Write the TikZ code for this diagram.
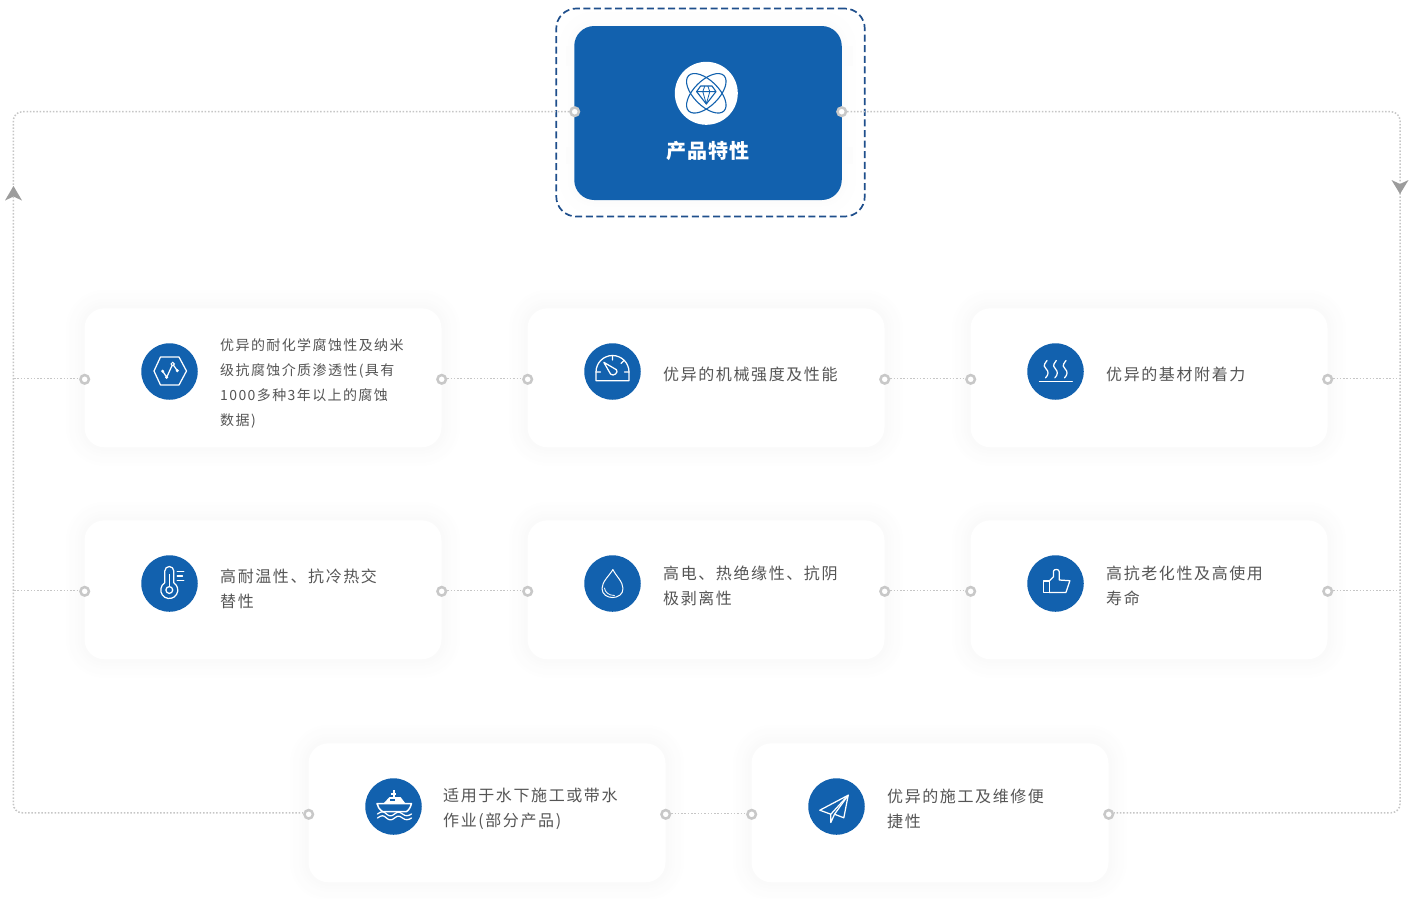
\documentclass[tikz,border=0pt]{standalone}
\usepackage{fontspec}
\setmainfont[LetterSpace=10]{Noto Sans CJK SC}
\newfontfamily\cjkbody[LetterSpace=10]{Noto Sans CJK SC}
\newfontfamily\cjktitle[LetterSpace=5]{Noto Sans CJK SC}
\definecolor{brand}{HTML}{1261AE}
\definecolor{dashblue}{HTML}{1F4F8C}
\definecolor{linegray}{HTML}{C6C6C6}
\definecolor{ringgray}{HTML}{C8C8C8}
\definecolor{arrowgray}{HTML}{9C9C9C}
\definecolor{bodytext}{HTML}{555555}
\tikzset{
  cardbox/.style={rectangle,rounded corners=20pt,fill=white,minimum width=357pt,minimum height=139pt,inner sep=0pt},
  iconcircle/.style={circle,fill=brand,minimum size=56.5pt,inner sep=0pt},
  ringnode/.style={circle,draw=ringgray,fill=white,line width=2.5pt,minimum size=8.5pt,inner sep=0pt},
  link/.style={draw=linegray,line width=1.5pt,dash pattern=on 1.5pt off 1.8pt},
  bodylabel/.style={anchor=west,align=left,inner sep=0pt,text=bodytext},
  sizeL/.style={font=\fontsize{16}{25}\cjkbody},
  sizeS/.style={font=\fontsize{14}{25}\cjkbody},
  glyph/.style={draw=white,line width=1.25pt,line join=round,line cap=round,fill=none},
  flowtip/.style={fill=arrowgray,draw=none},
}
\newcommand{\softglow}[2]{%
  \foreach \d/\v in {18/0.3,15/0.6,12/0.9,9/1.2,6/1.5,3/1.8}{%
    \fill[black!\v,rounded corners=\d pt+20pt] ([xshift=-178.5pt-\d pt,yshift=69.5pt+\d pt]#1,#2) rectangle ([xshift=178.5pt+\d pt,yshift=-69.5pt-\d pt]#1,#2);
  }%
}
\begin{document}
\begin{tikzpicture}[x=1pt,y=-1pt]
\useasboundingbox (0,0) rectangle (1413,898);
\fill[white] (0,0) rectangle (1413,898);

% soft shadows
\softglow{263}{377.8}\softglow{706}{377.8}\softglow{1149}{377.8}
\softglow{263}{589.8}\softglow{706}{589.8}\softglow{1149}{589.8}
\softglow{487}{812.8}\softglow{930}{812.8}

% cards
\node[cardbox] (c1) at (263,377.8) {};
\node[cardbox] (c2) at (706,377.8) {};
\node[cardbox] (c3) at (1149,377.8) {};
\node[cardbox] (c4) at (263,589.8) {};
\node[cardbox] (c5) at (706,589.8) {};
\node[cardbox] (c6) at (1149,589.8) {};
\node[cardbox] (c7) at (487,812.8) {};
\node[cardbox] (c8) at (930,812.8) {};

% main box
\foreach \d/\v in {14/0.25,10/0.5,6/0.75,3/1}{%
  \fill[black!\v,rounded corners=\d pt+20pt] (574-\d,26-\d) rectangle (841.5+\d,200+\d);
}
\fill[black!1.2] (566,46) rectangle (574,66);
\fill[black!1.2] (566,147) rectangle (574,164);
\fill[black!1.2] (842,46) rectangle (853,66);
\fill[black!1.2] (842,147) rectangle (853,164);
\node[rectangle,rounded corners=20pt,fill=brand,minimum width=267.5pt,minimum height=174pt,inner sep=0pt] (mainbox) at (708,113) {};
\node[rectangle,rounded corners=20pt,draw=dashblue,line width=1.7pt,dash pattern=on 7pt off 3.6pt,minimum width=308.5pt,minimum height=208pt,inner sep=0pt] (dashframe) at (710.5,112.5) {};
\node[circle,fill=white,minimum size=63pt,inner sep=0pt] (mainicon) at (706.3,93.3) {};
\node[text=white,inner sep=0pt,font=\fontsize{20}{24}\cjktitle\bfseries] (maintitle) at (708.3,151.3) {产品特性};

% rings
\node[ringnode] (r11) at (84.7,379.3) {};
\node[ringnode] (r12) at (441.7,379.3) {};
\node[ringnode] (r21) at (527.7,379.3) {};
\node[ringnode] (r22) at (884.7,379.3) {};
\node[ringnode] (r31) at (970.7,379.3) {};
\node[ringnode] (r32) at (1327.7,379.3) {};
\node[ringnode] (r41) at (84.7,591.3) {};
\node[ringnode] (r42) at (441.7,591.3) {};
\node[ringnode] (r51) at (527.7,591.3) {};
\node[ringnode] (r52) at (884.7,591.3) {};
\node[ringnode] (r61) at (970.7,591.3) {};
\node[ringnode] (r62) at (1327.7,591.3) {};
\node[ringnode] (r71) at (308.7,814.3) {};
\node[ringnode] (r72) at (665.7,814.3) {};
\node[ringnode] (r81) at (751.7,814.3) {};
\node[ringnode] (r82) at (1108.7,814.3) {};
\node[ringnode] (ml) at (574.7,111.7) {};
\node[ringnode] (mr) at (841.7,111.7) {};

% free ends / corners
\coordinate (tl) at (13.3,111.7);
\coordinate (bl) at (13.3,812.8);
\coordinate (tr) at (1400,111.7);
\coordinate (br) at (1400,812.8);
\coordinate (wl1) at (14,378.3);
\coordinate (wl2) at (14,590.3);
\coordinate (wr1) at (1400,378.3);
\coordinate (wr2) at (1400,590.3);

% connectors
\draw[link,rounded corners=9pt] (ml.west) -- (tl) -- (bl) -- ([yshift=1.5pt]r71.west);
\draw[link,rounded corners=9pt] (mr.east) -- (tr) -- (br) -- ([yshift=1.5pt]r82.east);
\draw[link] (wl1) -- ([yshift=1pt]r11.west);
\draw[link] ([yshift=1pt]r12.east) -- ([yshift=1pt]r21.west);
\draw[link] ([yshift=1pt]r22.east) -- ([yshift=1pt]r31.west);
\draw[link] ([yshift=1pt]r32.east) -- (wr1);
\draw[link] (wl2) -- ([yshift=1pt]r41.west);
\draw[link] ([yshift=1pt]r42.east) -- ([yshift=1pt]r51.west);
\draw[link] ([yshift=1pt]r52.east) -- ([yshift=1pt]r61.west);
\draw[link] ([yshift=1pt]r62.east) -- (wr2);
\draw[link] ([yshift=1pt]r72.east) -- ([yshift=1pt]r81.west);

% flow arrowheads
\fill[flowtip] (13.5,186) -- (22,200.5) -- (13.5,196.5) -- (5,200.5) -- cycle;
\fill[flowtip] (1400,194) -- (1391.5,180) -- (1400,184) -- (1408.5,180) -- cycle;

% icon discs
\node[iconcircle] (ic1) at (169.5,371.5) {};
\node[iconcircle] (ic2) at (612.5,371.5) {};
\node[iconcircle] (ic3) at (1055.5,371.5) {};
\node[iconcircle] (ic4) at (169.5,583.5) {};
\node[iconcircle] (ic5) at (612.5,583.5) {};
\node[iconcircle] (ic6) at (1055.5,583.5) {};
\node[iconcircle] (ic7) at (393.5,806.5) {};
\node[iconcircle] (ic8) at (836.5,806.5) {};

% main icon glyph
\begin{scope}[shift={(706.3,93.3)}]
  \draw[brand,line width=1.1pt,rotate=45] (0,0) ellipse [x radius=25,y radius=12.5];
  \draw[brand,line width=1.1pt,rotate=-45] (0,0) ellipse [x radius=25,y radius=12.5];
  \draw[brand,line width=1.1pt,line join=round] (-5.7,-7.3) -- (5.7,-7.3) -- (9.7,-1.7) -- (0,10.7) -- (-9.7,-1.7) -- cycle;
  \draw[brand,line width=.8pt,line join=round] (-9.7,-1.7) -- (9.7,-1.7) (-3.5,-1.7) -- (0,10.7) -- (3.5,-1.7) (-3.5,-1.7) -- (-1.5,-7.3) (3.5,-1.7) -- (1.5,-7.3);
\end{scope}

% icon 1
\begin{scope}[shift={(169.5,371)}]
  \draw[glyph] (-15.5,0) -- (-9,-14) -- (9.5,-14) -- (17,0) -- (9.5,14) -- (-9,14) -- cycle;
  \draw[glyph] (-6.8,0.2) -- (-2.8,6.3) -- (3.2,-7) -- (7.8,-0.3);
  \fill[white] (-6.8,0.2) circle (1.7) (-2.8,6.3) circle (1.7) (7.8,-0.3) circle (1.7);
  \draw[white,fill=brand,line width=1pt] (3.2,-7) circle (1.7);
\end{scope}

% icon 2
\begin{scope}[shift={(612.5,371)}]
  \draw[glyph] (-16.5,9.7) -- (16.5,9.7) -- (16.5,1) arc [start angle=0,end angle=-180,radius=16.5] -- cycle;
  \draw[glyph] (0,-15.5) -- (0,-11) (-16.5,1) -- (-12,1) (16.5,1) -- (12,1) (11.7,-10.7) -- (8.5,-7.5);
  \draw[glyph] (-8.7,-8.7) -- (3.9,-1.3) .. controls (6.5,1.2) and (1,6) .. (-1.9,3.1) -- cycle;
\end{scope}

% icon 3
\begin{scope}[shift={(1055.5,371.5)}]
  \draw[glyph] (-16,10.3) -- (16.7,10.3);
  \foreach \sx in {-9.3,0,9.7}{%
    \draw[glyph] (\sx+.8,-11) .. controls (\sx-3.5,-6) and (\sx-2,-4) .. (\sx,-2.5) .. controls (\sx+2.5,0) and (\sx+2.5,3) .. (\sx-.6,6.3);
  }
\end{scope}

% icon 4
\begin{scope}[shift={(169.3,583)}]
  \draw[glyph] (-4.5,-0.2) -- (-4.5,-12) arc [start angle=180,end angle=360,radius=4.5] -- (4.5,-0.2) arc [start angle=-58,end angle=238,radius=8.5];
  \draw[white,line width=1.25pt] (0,7) circle (3.4);
  \draw[white,line width=1.25pt] (0,3.5) -- (0,-9);
  \draw[glyph] (8,-11.3) -- (14.5,-11.3) (8,-7) -- (13.2,-7) (8,-2.5) -- (14.5,-2.5);
\end{scope}

% icon 5
\begin{scope}[shift={(612.5,583.5)}]
  \draw[white,line width=1pt,line join=round] (.4,-14) .. controls (-3,-8) and (-10.5,-2) .. (-10.5,5) .. controls (-10.5,11) and (-5,14) .. (0,14) .. controls (5.5,14) and (10.5,11) .. (10.5,5) .. controls (10.5,-2) and (3,-8) .. (.4,-14) -- cycle;
  \draw[white,line width=.8pt,line cap=round] (-8,4.5) .. controls (-7.5,8.5) and (-4,12) .. (2,12);
\end{scope}

% icon 6
\begin{scope}[shift={(1055.6,583)}]
  \draw[glyph] (-12.3,-2) rectangle (-6.3,9.5);
  \draw[glyph] (-6.3,-2) -- (-2,-6.3) -- (-2,-12) .. controls (-2,-14) and (3.7,-14.5) .. (3.7,-11) -- (3.7,-3) -- (14.3,-2.3) -- (10.3,9.5) -- (-6.3,9.5);
\end{scope}

% icon 7
\begin{scope}[shift={(393.5,806.5)}]
  \draw[white,line width=1.5pt,line join=round] (-16.5,-3) -- (18,-3) .. controls (17,1) and (15,4) .. (13,5) -- (-11,5) .. controls (-14,3) and (-16,0) .. (-16.5,-3) -- cycle;
  \fill[white] (-10,-3) -- (-4,-9.5) -- (7,-9.5) -- (12,-3) -- cycle;
  \fill[brand] (-4,-7.5) rectangle (1,-5.2);
  \draw[white,line width=2pt] (0,-16.5) -- (0,-9) (-2.4,-13) -- (2.4,-13);
  \draw[glyph] (-16,7.5) .. controls (-12,4.5) and (-10,4.5) .. (-7,7.5) .. controls (-4,10) and (-2,10) .. (1,7.5) .. controls (4,5) and (6,5) .. (9,7.5) .. controls (12,10) and (15,9.5) .. (18,7.5);
  \draw[glyph] (-16,11.5) .. controls (-12,8.5) and (-10,8.5) .. (-7,11.5) .. controls (-4,14) and (-2,14) .. (1,11.5) .. controls (4,9) and (6,9) .. (9,11.5) .. controls (12,14) and (15,13.5) .. (18,11.5);
\end{scope}

% icon 8
\begin{scope}[shift={(836.5,806.5)}]
  \draw[glyph] (-16.7,3.7) -- (11.7,-11.3) -- (7.3,11.3) -- (-2,7.7) -- (-5.7,16) -- (-5.7,7.7) -- cycle;
  \draw[glyph] (-5.7,7.7) -- (11.7,-11.3);
  \draw[glyph] (-2,7.7) -- (11.7,-11.3);
\end{scope}

% texts
\node[bodylabel,sizeS] (t1) at (220,383.7) {优异的耐化学腐蚀性及纳米\\级抗腐蚀介质渗透性(具有\\1000多种3年以上的腐蚀\\数据)};
\node[bodylabel,sizeL] (t2) at (663,374.3) {优异的机械强度及性能};
\node[bodylabel,sizeL] (t3) at (1106,374.3) {优异的基材附着力};
\node[bodylabel,sizeL] (t4) at (220,589) {高耐温性、抗冷热交\\替性};
\node[bodylabel,sizeL] (t5) at (663,585.8) {高电、热绝缘性、抗阴\\极剥离性};
\node[bodylabel,sizeL] (t6) at (1106,585.8) {高抗老化性及高使用\\寿命};
\node[bodylabel,sizeL] (t7) at (443,808.5) {适用于水下施工或带水\\作业(部分产品)};
\node[bodylabel,sizeL] (t8) at (887,808.8) {优异的施工及维修便\\捷性};
\end{tikzpicture}
\end{document}
